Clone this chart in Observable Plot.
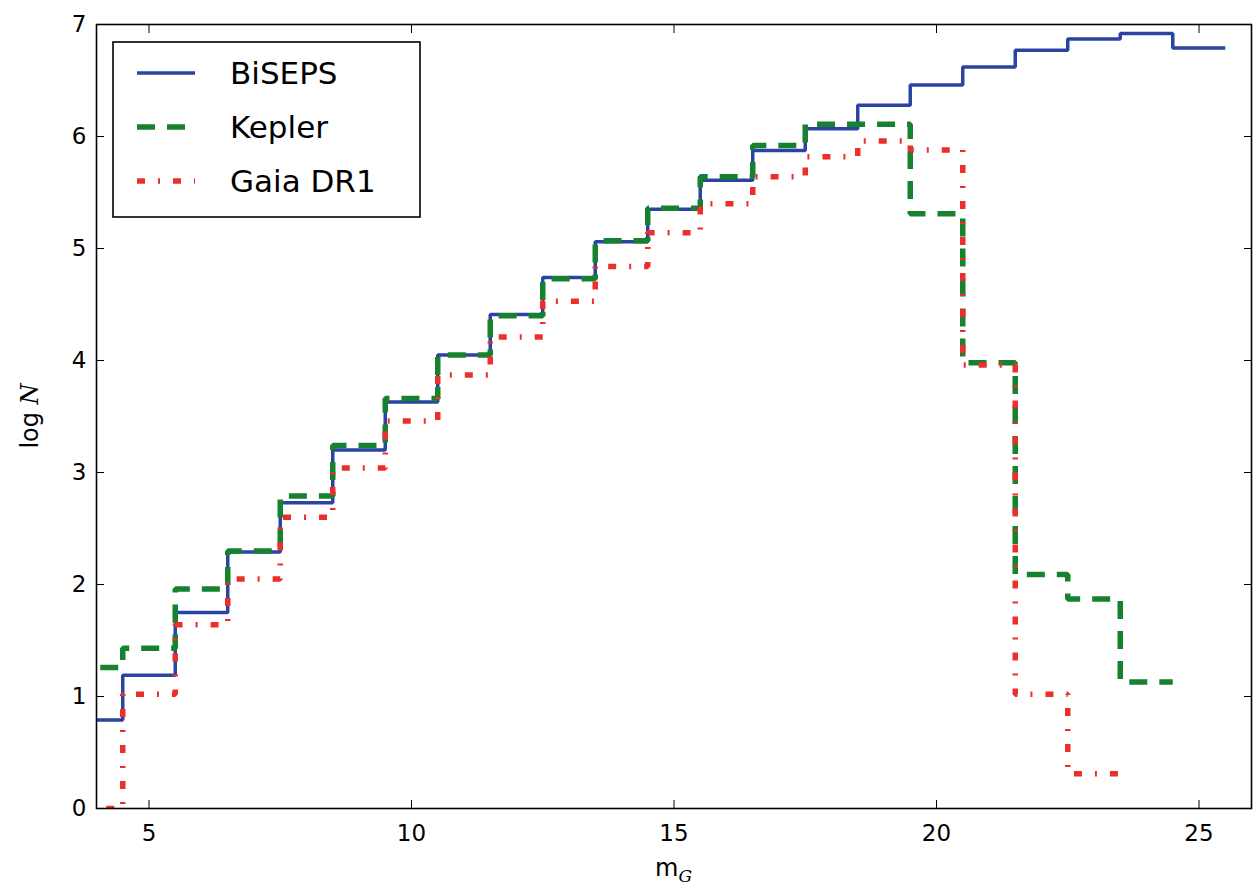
<!DOCTYPE html>
<html>
<head>
<meta charset="utf-8">
<script src="https://cdn.jsdelivr.net/npm/d3@7"></script>
<script src="https://cdn.jsdelivr.net/npm/@observablehq/plot@0.6"></script>
<style>
  html, body { margin: 0; padding: 0; background: #fff; }
  #chart svg { display: block; }
</style>
</head>
<body>
<div id="chart"></div>
<script>
// Bin centres (apparent G magnitude); each bin spans centre ± 0.5
const bisepsBins = d3.range(4, 26);   // 4 … 25
const keplerBins = d3.range(4, 25);   // 4 … 24
const gaiaBins   = d3.range(4, 24);   // 4 … 23

// log N per bin
const bisepsLogN = [0.79, 1.19, 1.75, 2.29, 2.73, 3.20, 3.63, 4.05, 4.41, 4.74, 5.06,
                    5.35, 5.61, 5.875, 6.07, 6.28, 6.46, 6.62, 6.77, 6.87, 6.92, 6.79];
const keplerLogN = [1.26, 1.43, 1.96, 2.30, 2.79, 3.24, 3.66, 4.05, 4.40, 4.73, 5.07,
                    5.36, 5.64, 5.92, 6.11, 6.11, 5.31, 3.98, 2.09, 1.87, 1.13];
const gaiaLogN   = [0.00, 1.02, 1.64, 2.05, 2.60, 3.04, 3.46, 3.87, 4.21, 4.53, 4.84,
                    5.14, 5.40, 5.64, 5.82, 5.96, 5.88, 3.96, 1.02, 0.31];

const seriesNames = ["BiSEPS", "Kepler", "Gaia DR1"];
const xTicks = [5, 10, 15, 20, 25];
const yTicks = [0, 1, 2, 3, 4, 5, 6, 7];

const colors = {BiSEPS: "#2b44a3", Kepler: "#16812f", "Gaia DR1": "#ec2f2c"};
const styles = {
  BiSEPS:     {strokeWidth: 3.5, dash: null},
  Kepler:     {strokeWidth: 5.5, dash: "18,12"},
  "Gaia DR1": {strokeWidth: 5.5, dash: "8,13,2,13"}
};

// Turn bins into step-after vertices: left edge of every bin + right edge of last bin
function steps(bins, vals, name) {
  const pts = bins.map((c, i) => ({x: c - 0.5, y: vals[i], series: name}));
  pts.push({x: bins[bins.length - 1] + 0.5, y: vals[vals.length - 1], series: name});
  return pts;
}
const bisepsPts = steps(bisepsBins, bisepsLogN, "BiSEPS");
const keplerPts = steps(keplerBins, keplerLogN, "Kepler");
const gaiaPts   = steps(gaiaBins, gaiaLogN, "Gaia DR1");

const font = "DejaVu Sans, Verdana, sans-serif";
const W = 1257, H = 893;
const mL = 96, mR = 6, mT = 24, mB = 85;

function stepLine(pts, name) {
  return Plot.line(pts, {
    x: "x", y: "y", curve: "step-after", clip: true,
    stroke: colors[name], strokeWidth: styles[name].strokeWidth,
    strokeDasharray: styles[name].dash, strokeLinecap: "butt", strokeLinejoin: "miter"
  });
}

const plot = Plot.plot({
  width: W, height: H,
  marginLeft: mL, marginRight: mR, marginTop: mT, marginBottom: mB,
  style: {fontFamily: font, fontSize: "23px", color: "#000", background: "#fff"},
  x: {domain: [4, 26]},
  y: {domain: [0, 7]},
  marks: [
    stepLine(bisepsPts, "BiSEPS"),
    stepLine(keplerPts, "Kepler"),
    stepLine(gaiaPts, "Gaia DR1"),
    Plot.axisX(xTicks, {anchor: "bottom", tickSize: -8, tickPadding: 24, label: null, fontSize: 23, stroke: "#000", tickFormat: d => String(d)}),
    Plot.axisX(xTicks, {anchor: "top", tickSize: -8, text: null, label: null, stroke: "#000"}),
    Plot.axisY(yTicks, {anchor: "left", tickSize: -8, tickPadding: 18, label: null, fontSize: 23, stroke: "#000", tickFormat: d => String(d)}),
    Plot.axisY(yTicks, {anchor: "right", tickSize: -8, text: null, label: null, stroke: "#000"}),
    Plot.frame({stroke: "#000", strokeWidth: 1.6})
  ]
});

document.getElementById("chart").appendChild(plot);

const svg = d3.select(plot);

// Axis labels with math italics
const xl = svg.append("text")
  .attr("x", (mL + W - mR) / 2).attr("y", 876)
  .attr("text-anchor", "middle")
  .style("font-family", font).style("font-size", "24px").attr("fill", "#000");
xl.append("tspan").text("m");
xl.append("tspan").text("G").attr("dy", 6)
  .style("font-family", "DejaVu Serif, serif").style("font-style", "italic").style("font-size", "17px");

const yl = svg.append("text")
  .attr("transform", `translate(38,${(mT + H - mB) / 2}) rotate(-90)`)
  .attr("text-anchor", "middle")
  .style("font-family", font).style("font-size", "24px").attr("fill", "#000");
yl.append("tspan").text("log ");
yl.append("tspan").text("N")
  .style("font-family", "DejaVu Serif, serif").style("font-style", "italic");

// Legend
const lg = svg.append("g");
lg.append("rect").attr("x", 113).attr("y", 42).attr("width", 307).attr("height", 175)
  .attr("fill", "#fff").attr("stroke", "#000").attr("stroke-width", 1.6);
seriesNames.forEach((name, i) => {
  const cy = 73 + i * 54;
  lg.append("line").attr("x1", 137).attr("x2", 195).attr("y1", cy).attr("y2", cy)
    .attr("stroke", colors[name]).attr("stroke-width", styles[name].strokeWidth)
    .attr("stroke-dasharray", styles[name].dash);
  lg.append("text").attr("x", 230).attr("y", cy).attr("dy", "0.36em")
    .attr("text-anchor", "start")
    .style("font-family", font).style("font-size", "31px").attr("fill", "#000")
    .text(name);
});
</script>
</body>
</html>
